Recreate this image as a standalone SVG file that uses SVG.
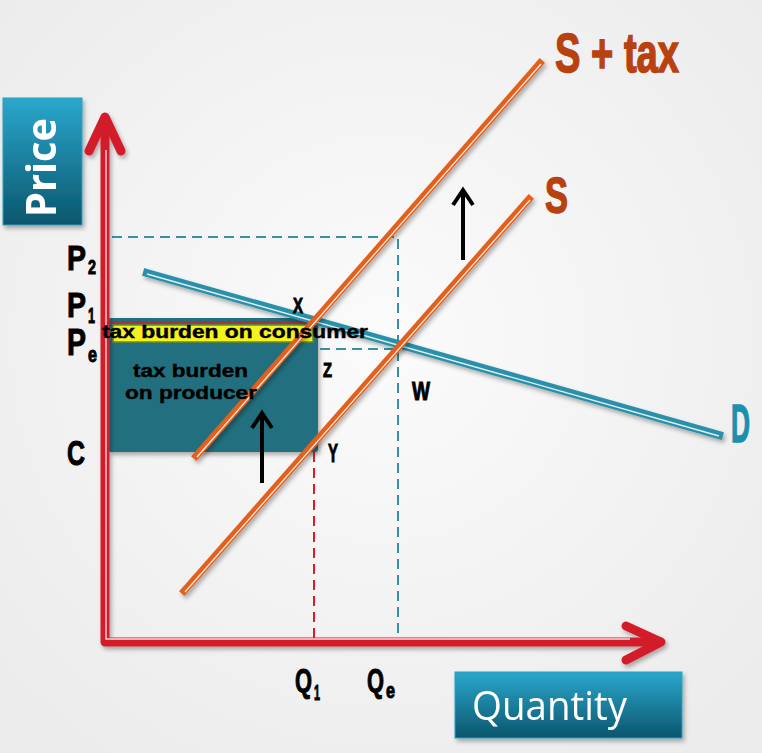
<svg xmlns="http://www.w3.org/2000/svg" width="762" height="753" viewBox="0 0 762 753">
<defs>
  <radialGradient id="bg" cx="50%" cy="45%" r="65%">
    <stop offset="0" stop-color="#fbfbfb"/>
    <stop offset="1" stop-color="#ececec"/>
  </radialGradient>
  <linearGradient id="boxg" x1="0" y1="0" x2="0" y2="1">
    <stop offset="0" stop-color="#2ba7cd"/>
    <stop offset="1" stop-color="#0a566d"/>
  </linearGradient>
  <filter id="sh" x="-10%" y="-10%" width="130%" height="130%">
    <feDropShadow dx="2" dy="3" stdDeviation="2" flood-color="#000" flood-opacity="0.3"/>
  </filter>
  <style>
    .lab{font-family:"Liberation Sans",Arial,sans-serif;font-weight:bold;fill:#000;stroke:#000;stroke-width:1;paint-order:stroke}
    .cl{stroke-width:1.5}
    .tx{font-family:"Liberation Sans",Arial,sans-serif;font-weight:bold;fill:#000;stroke:#000;stroke-width:0.4}
    .box{font-family:"Open Sans","Liberation Sans",sans-serif;fill:#fff}
    .red{stroke:#d21f2a;stroke-width:9;fill:none;stroke-linecap:round;stroke-linejoin:round}
    .core{stroke:#fff;stroke-width:1.3;fill:none;opacity:0.85}
    .org{stroke:#e2601c;stroke-width:7;stroke-linecap:square}
    .teal{stroke:#2a90aa;stroke-width:8;stroke-linecap:square}
    .dashb{stroke:#3a8fa6;stroke-width:2;stroke-dasharray:10 6;fill:none}
    .dashr{stroke:#d21f2a;stroke-width:2;stroke-dasharray:10 6;fill:none}
    .arr{stroke:#000;stroke-width:4;fill:none;stroke-linecap:butt;stroke-linejoin:miter}
  </style>
</defs>
<rect width="762" height="753" fill="url(#bg)"/>

<g id="price-box" filter="url(#sh)">
  <rect x="3" y="98" width="79" height="127" fill="url(#boxg)" stroke="#2b9fc2" stroke-width="1"/>
  <text class="box" font-size="42" font-weight="bold" transform="translate(56,217) rotate(-90)" textLength="99" lengthAdjust="spacingAndGlyphs">Price</text>
</g>

<g id="quantity-box" filter="url(#sh)">
  <rect x="455" y="672" width="227" height="66" fill="url(#boxg)" stroke="#2b9fc2" stroke-width="1"/>
  <text class="box" x="472" y="720" font-size="40" textLength="155" lengthAdjust="spacingAndGlyphs">Quantity</text>
</g>

<g id="areas">
  <rect x="108" y="318" width="210" height="134" rx="3" fill="#21707f" filter="url(#sh)"/>
  <line x1="110" y1="322" x2="316" y2="322" stroke="#d21f2a" stroke-width="1.5"/>
  <rect x="113" y="325" width="200" height="17" fill="#f4f21c" stroke="#6a8a2a" stroke-width="1.5"/>
</g>

<g id="connectors">
  <path class="dashb" d="M112 237 H398 V640"/>
  <path class="dashb" d="M320 349 H397"/>
  <path class="dashr" d="M314 452 V640"/>
  <path class="arr" d="M262 483 V413 M252 428 L262 413 L272 428"/>
  <path class="arr" d="M463 260 V190 M453 205 L463 190 L473 205"/>
</g>

<g id="axes" filter="url(#sh)">
  <path class="red" d="M105 118 V642 H660"/>
  <path class="red" d="M89 151 L105 117 L121 151"/>
  <path class="red" d="M626 626 L661 642 L626 660"/>
  <path class="core" d="M106 150 V639 H630"/>
</g>

<g id="curve-D" filter="url(#sh)">
  <line class="teal" x1="147" y1="273" x2="719" y2="435"/>
  <line class="core" x1="147" y1="274" x2="719" y2="436"/>
</g>

<g id="curve-S" filter="url(#sh)">
  <line class="org" x1="184" y1="591" x2="529" y2="199"/>
  <line class="core" x1="185" y1="592" x2="530" y2="200"/>
</g>

<g id="curve-Stax" filter="url(#sh)">
  <line class="org" x1="196" y1="456" x2="540" y2="63"/>
  <line class="core" x1="197" y1="457" x2="541" y2="64"/>
</g>

<g id="axis-labels">
  <text class="lab" x="67" y="270" font-size="35" textLength="19" lengthAdjust="spacingAndGlyphs">P</text>
  <text class="lab" x="88" y="274" font-size="20" textLength="8" lengthAdjust="spacingAndGlyphs">2</text>
  <text class="lab" x="67" y="317" font-size="35" textLength="19" lengthAdjust="spacingAndGlyphs">P</text>
  <text class="lab" x="88" y="323" font-size="22" textLength="7" lengthAdjust="spacingAndGlyphs">1</text>
  <text class="lab" x="67" y="355" font-size="36" textLength="19" lengthAdjust="spacingAndGlyphs">P</text>
  <text class="lab" x="88" y="362" font-size="22" textLength="9" lengthAdjust="spacingAndGlyphs">e</text>
  <text class="lab" x="67" y="465" font-size="35" textLength="18" lengthAdjust="spacingAndGlyphs">C</text>
  <text class="lab" x="295" y="692" font-size="33" textLength="17" lengthAdjust="spacingAndGlyphs">Q</text>
  <text class="lab" x="314" y="700" font-size="22" textLength="6" lengthAdjust="spacingAndGlyphs">1</text>
  <text class="lab" x="367" y="692" font-size="33" textLength="17" lengthAdjust="spacingAndGlyphs">Q</text>
  <text class="lab" x="386" y="698" font-size="22" textLength="9" lengthAdjust="spacingAndGlyphs">e</text>
</g>

<g id="point-labels">
  <text class="lab" x="293" y="313" font-size="22" textLength="10" lengthAdjust="spacingAndGlyphs">X</text>
  <text class="lab" x="323" y="377" font-size="21" textLength="9" lengthAdjust="spacingAndGlyphs">Z</text>
  <text class="lab" x="412" y="400" font-size="25" textLength="18" lengthAdjust="spacingAndGlyphs">W</text>
  <text class="lab" x="328" y="462" font-size="26" textLength="10" lengthAdjust="spacingAndGlyphs">Y</text>
</g>

<g id="curve-labels">
  <text class="lab cl" x="555" y="72" font-size="55" style="fill:#b8420f;stroke:#b8420f" textLength="124" lengthAdjust="spacingAndGlyphs">S + tax</text>
  <text class="lab cl" x="545" y="213" font-size="50" style="fill:#b8420f;stroke:#b8420f" textLength="23" lengthAdjust="spacingAndGlyphs">S</text>
  <text class="lab cl" x="731" y="442" font-size="54" style="fill:#1b8fae;stroke:#1b8fae" textLength="19" lengthAdjust="spacingAndGlyphs">D</text>
</g>

<g id="area-labels">
  <text class="tx" x="102" y="338" font-size="18" textLength="266" lengthAdjust="spacingAndGlyphs">tax burden on consumer</text>
  <text class="tx" x="133" y="377" font-size="18" textLength="115" lengthAdjust="spacingAndGlyphs">tax burden</text>
  <text class="tx" x="125" y="399" font-size="18" textLength="132" lengthAdjust="spacingAndGlyphs">on producer</text>
</g>
</svg>
